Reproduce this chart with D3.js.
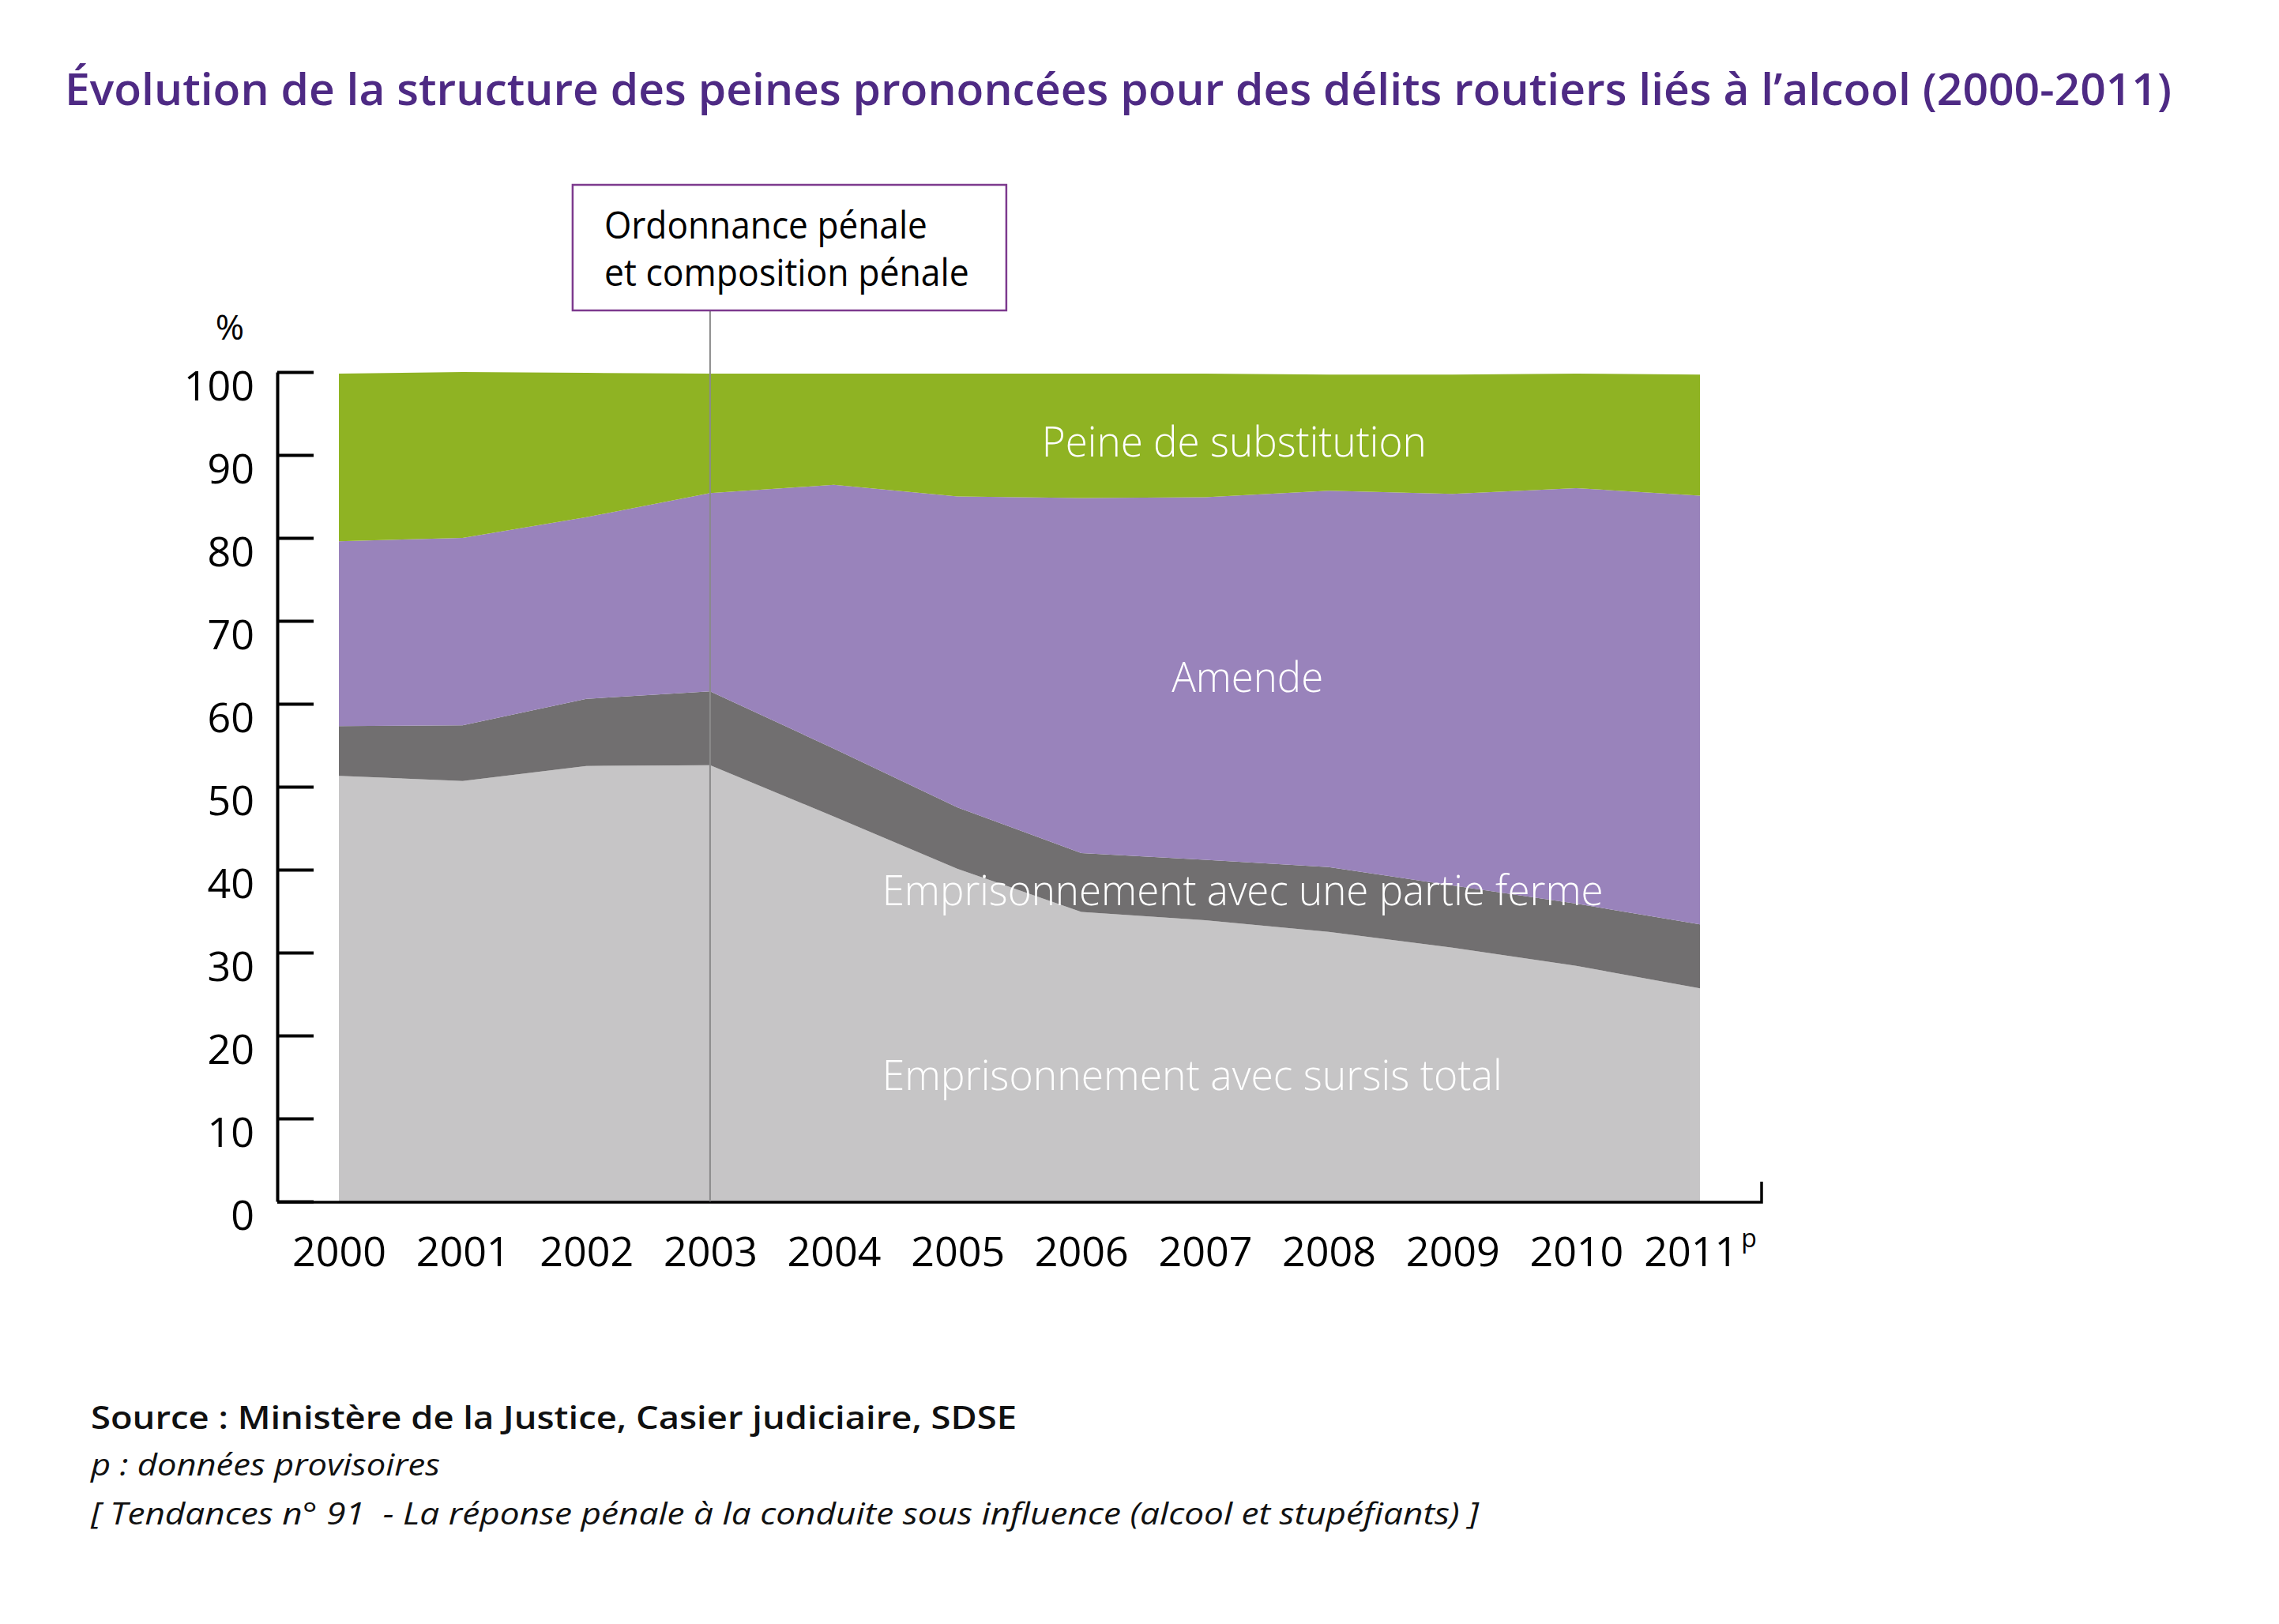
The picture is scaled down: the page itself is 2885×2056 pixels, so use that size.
<!DOCTYPE html>
<html>
<head>
<meta charset="utf-8">
<script src="https://cdn.jsdelivr.net/npm/d3@7"></script>
<style>
body { margin: 0; background: #fff; }
text { font-family: "Open Sans", sans-serif; }
</style>
</head>
<body>
<svg id="chart" width="2885" height="2056"></svg>
<script>
// values (percent of sentences)
var years = [2000, 2001, 2002, 2003, 2004, 2005, 2006, 2007, 2008, 2009, 2010, 2011];
var sursisTotal  = [51.3, 50.7, 52.5, 52.6, 46.4, 40.1, 34.9, 33.9, 32.5, 30.6, 28.4, 25.7];
var partieFerme  = [6.0, 6.7, 8.1, 8.9, 8.2, 7.4, 7.1, 7.3, 7.8, 7.5, 7.5, 7.7];
var amende       = [22.3, 22.6, 21.9, 23.9, 31.8, 37.5, 42.8, 43.7, 45.4, 47.2, 50.1, 51.7];
var substitution = [20.2, 20.0, 17.4, 14.4, 13.4, 14.8, 15.0, 14.9, 14.0, 14.4, 13.8, 14.6];
var yTicks = [0, 10, 20, 30, 40, 50, 60, 70, 80, 90, 100];

var keys = ["sursis", "ferme", "amende", "substitution"];
var names = ["Emprisonnement avec sursis total", "Emprisonnement avec une partie ferme", "Amende", "Peine de substitution"];
var colors = ["#c6c5c6", "#716f70", "#9983bb", "#8fb323"];

var svg = d3.select("#chart");

// drawable area
var plotLeft = 429, plotRight = 2152, plotTop = 471, plotBottom = 1521;
var axisX = 351;

var x = d3.scaleLinear().domain([2000, 2011]).range([plotLeft, plotRight]);
var y = d3.scaleLinear().domain([0, 100]).range([plotBottom, plotTop]);
var color = d3.scaleOrdinal().domain(keys).range(colors);

function fit(sel, w) {
	sel.attr("textLength", w).attr("lengthAdjust", "spacingAndGlyphs");
}

// rows for the stack
var rows = years.map(function(yr, i) {
	return { year: yr, sursis: sursisTotal[i], ferme: partieFerme[i], amende: amende[i], substitution: substitution[i] };
});
var stacked = d3.stack().keys(keys)(rows);

var area = d3.area()
	.x(function(d) { return x(d.data.year); })
	.y0(function(d) { return y(d[0]); })
	.y1(function(d) { return y(d[1]); });

svg.append("g")
	.selectAll("path")
	.data(stacked)
	.enter()
	.append("path")
	.attr("fill", function(d) { return color(d.key); })
	.attr("d", area);

// title
svg.append("text")
	.attr("x", 82)
	.attr("y", 133)
	.attr("fill", "#4e2a84")
	.attr("font-size", 56)
	.attr("font-weight", 600)
	.text("Évolution de la structure des peines prononcées pour des délits routiers liés à l’alcool (2000-2011)")
	.call(fit, 2667);

// y axis
var yAxis = d3.axisLeft(y)
	.tickValues(yTicks)
	.tickSize(-46)
	.tickSizeOuter(0)
	.tickPadding(29);

var gy = svg.append("g")
	.attr("transform", "translate(" + axisX + ",0)")
	.call(yAxis);
gy.select(".domain").attr("stroke", "#000").attr("stroke-width", 4);
gy.selectAll(".tick line").attr("stroke", "#000").attr("stroke-width", 4);
gy.selectAll(".tick text")
	.attr("fill", "#000")
	.attr("font-size", 52)
	.attr("font-family", "Open Sans, sans-serif")
	.attr("dy", "0.68em");

svg.append("text")
	.attr("x", 291)
	.attr("y", 430)
	.attr("text-anchor", "middle")
	.attr("font-size", 44)
	.text("%");

// x axis
var xAxis = d3.axisBottom(x)
	.tickValues(years)
	.tickSize(0)
	.tickPadding(45)
	.tickFormat(d3.format("d"));

var gx = svg.append("g")
	.attr("transform", "translate(0," + plotBottom + ")")
	.call(xAxis);
gx.select(".domain").remove();
gx.selectAll(".tick text")
	.attr("fill", "#000")
	.attr("font-size", 52)
	.attr("font-family", "Open Sans, sans-serif");
gx.selectAll(".tick text")
	.filter(function(d) { return d === 2011; })
	.append("tspan")
	.attr("font-size", 32)
	.attr("dy", "-0.75em")
	.attr("dx", 4)
	.text("p");

// baseline with closing tick on the right
svg.append("path")
	.attr("d", "M" + axisX + "," + (plotBottom + 1) + "H" + (plotRight + 78) + "V" + (plotBottom - 25))
	.attr("fill", "none")
	.attr("stroke", "#000")
	.attr("stroke-width", 3.5);

// 2003 marker and note
var x2003 = x(2003);
svg.append("line")
	.attr("x1", x2003).attr("x2", x2003)
	.attr("y1", 393).attr("y2", plotBottom)
	.attr("stroke", "#8a8a8a")
	.attr("stroke-width", 2);

svg.append("rect")
	.attr("x", x2003 - 174)
	.attr("y", 234)
	.attr("width", 549)
	.attr("height", 159)
	.attr("fill", "#fff")
	.attr("stroke", "#7d3a8e")
	.attr("stroke-width", 2.5);

svg.append("text")
	.attr("x", x2003 - 134).attr("y", 302)
	.attr("font-size", 47)
	.text("Ordonnance pénale")
	.call(fit, 409);
svg.append("text")
	.attr("x", x2003 - 134).attr("y", 362)
	.attr("font-size", 47)
	.text("et composition pénale")
	.call(fit, 462);

// series labels, placed in data space
var labelPos = [
	{ name: names[3], year: 2005.68, value: 89.8, w: 487 },
	{ name: names[2], year: 2006.73, value: 61.4, w: 192 },
	{ name: names[1], year: 2004.39, value: 35.7, w: 913 },
	{ name: names[0], year: 2004.39, value: 13.4, w: 785 }
];
svg.append("g")
	.selectAll("text")
	.data(labelPos)
	.enter()
	.append("text")
	.attr("x", function(d) { return x(d.year); })
	.attr("y", function(d) { return y(d.value); })
	.attr("fill", "#fff")
	.attr("font-size", 54)
	.attr("font-weight", 300)
	.text(function(d) { return d.name; })
	.each(function(d) { d3.select(this).call(fit, d.w); });

// source notes
svg.append("text")
	.attr("x", 115).attr("y", 1809)
	.attr("font-size", 39)
	.attr("font-weight", 600)
	.attr("fill", "#111")
	.text("Source : Ministère de la Justice, Casier judiciaire, SDSE")
	.call(fit, 1172);
svg.append("text")
	.attr("x", 115).attr("y", 1868)
	.attr("font-size", 39)
	.attr("font-style", "italic")
	.attr("fill", "#111")
	.text("p : données provisoires")
	.call(fit, 442);
svg.append("text")
	.attr("x", 115).attr("y", 1930)
	.attr("font-size", 39)
	.attr("font-style", "italic")
	.attr("fill", "#111")
	.attr("xml:space", "preserve")
	.text("[ Tendances n° 91  - La réponse pénale à la conduite sous influence (alcool et stupéfiants) ]")
	.call(fit, 1757);
</script>
</body>
</html>
